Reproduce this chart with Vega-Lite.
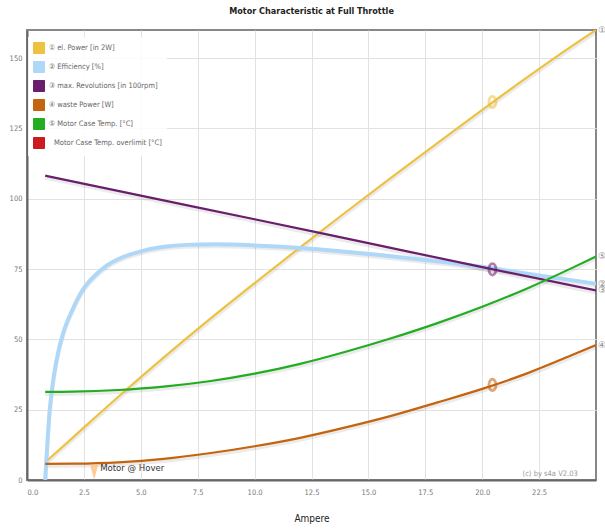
{
  "$schema": "https://vega.github.io/schema/vega-lite/v6.json",
  "width": 569,
  "height": 450,
  "autosize": {"type": "none"},
  "padding": {"left": 27, "top": 30, "right": 9, "bottom": 49},
  "background": "white",
  "title": {
    "text": "Motor Characteristic at Full Throttle",
    "fontSize": 9,
    "fontWeight": "bold",
    "font": "DejaVu Sans Condensed, sans-serif",
    "color": "#222",
    "anchor": "middle",
    "offset": 10
  },
  "datasets": {
    "curves": [
      {"s": "P", "I": 0.8, "v": 6.3}, {"s": "P", "I": 2, "v": 15}, {"s": "P", "I": 4, "v": 29.5}, {"s": "P", "I": 6, "v": 43.5}, {"s": "P", "I": 8, "v": 57}, {"s": "P", "I": 10, "v": 70}, {"s": "P", "I": 12, "v": 82.7}, {"s": "P", "I": 14, "v": 95.2}, {"s": "P", "I": 16, "v": 107.5}, {"s": "P", "I": 18, "v": 119.6}, {"s": "P", "I": 20, "v": 131.6}, {"s": "P", "I": 22, "v": 143.3}, {"s": "P", "I": 24, "v": 154.6}, {"s": "P", "I": 25, "v": 160},
      {"s": "E", "I": 0.8, "v": 0}, {"s": "E", "I": 0.9, "v": 13.5}, {"s": "E", "I": 1.0, "v": 25}, {"s": "E", "I": 1.2, "v": 38}, {"s": "E", "I": 1.4, "v": 46.5}, {"s": "E", "I": 1.6, "v": 52.5}, {"s": "E", "I": 2.0, "v": 60.6}, {"s": "E", "I": 2.5, "v": 68.2}, {"s": "E", "I": 3.0, "v": 72.8}, {"s": "E", "I": 3.5, "v": 76.2}, {"s": "E", "I": 4.0, "v": 78.5}, {"s": "E", "I": 5.0, "v": 81.3}, {"s": "E", "I": 6.0, "v": 82.9}, {"s": "E", "I": 7.0, "v": 83.6}, {"s": "E", "I": 8.3, "v": 83.8}, {"s": "E", "I": 10, "v": 83.4}, {"s": "E", "I": 11.2, "v": 82.9}, {"s": "E", "I": 12.5, "v": 82.2}, {"s": "E", "I": 14.2, "v": 81}, {"s": "E", "I": 15.5, "v": 80}, {"s": "E", "I": 17.1, "v": 78.6}, {"s": "E", "I": 18.5, "v": 77.3}, {"s": "E", "I": 20.0, "v": 75.8}, {"s": "E", "I": 20.5, "v": 75.2}, {"s": "E", "I": 22.5, "v": 72.7}, {"s": "E", "I": 25, "v": 69.8},
      {"s": "R", "I": 0.8, "v": 108.2}, {"s": "R", "I": 5, "v": 101.1}, {"s": "R", "I": 10, "v": 92.7}, {"s": "R", "I": 15, "v": 84.2}, {"s": "R", "I": 20, "v": 75.7}, {"s": "R", "I": 25, "v": 67.4},
      {"s": "W", "I": 0.8, "v": 5.7}, {"s": "W", "I": 2, "v": 5.8}, {"s": "W", "I": 4, "v": 6.3}, {"s": "W", "I": 6, "v": 7.5}, {"s": "W", "I": 8, "v": 9.5}, {"s": "W", "I": 10, "v": 12}, {"s": "W", "I": 12, "v": 15}, {"s": "W", "I": 14, "v": 18.7}, {"s": "W", "I": 16, "v": 22.8}, {"s": "W", "I": 18, "v": 27.5}, {"s": "W", "I": 20, "v": 32.4}, {"s": "W", "I": 22, "v": 38}, {"s": "W", "I": 24, "v": 44.6}, {"s": "W", "I": 25, "v": 48},
      {"s": "T", "I": 0.8, "v": 31.3}, {"s": "T", "I": 2, "v": 31.4}, {"s": "T", "I": 4, "v": 32}, {"s": "T", "I": 6, "v": 33.2}, {"s": "T", "I": 8, "v": 35.1}, {"s": "T", "I": 10, "v": 37.8}, {"s": "T", "I": 12, "v": 41.3}, {"s": "T", "I": 14, "v": 45.6}, {"s": "T", "I": 16, "v": 50.4}, {"s": "T", "I": 18, "v": 55.7}, {"s": "T", "I": 20, "v": 61.6}, {"s": "T", "I": 22, "v": 68.2}, {"s": "T", "I": 24, "v": 75.6}, {"s": "T", "I": 25, "v": 79.5}
    ],
    "rings": [
      {"s": "P", "I": 20.45, "v": 134.4},
      {"s": "R", "I": 20.45, "v": 74.9},
      {"s": "W", "I": 20.45, "v": 33.8}
    ],
    "ends": [
      {"t": "①", "I": 25, "v": 160},
      {"t": "②", "I": 25, "v": 69.8},
      {"t": "③", "I": 25, "v": 67.4},
      {"t": "④", "I": 25, "v": 48},
      {"t": "⑤", "I": 25, "v": 79.5}
    ],
    "hover": [{"I": 2.95, "v": 2.8, "t": "Motor @ Hover"}],
    "copy": [{"I": 24.2, "v": 2.3, "t": "(c) by s4a  V2.03"}]
  },
  "layer": [
    {
      "data": {"name": "curves"},
      "mark": {"type": "line", "interpolate": "monotone", "color": "#000", "opacity": 0.08, "strokeWidth": 4, "yOffset": 2, "clip": true},
      "encoding": {
        "x": {"field": "I", "type": "quantitative", "scale": {"domain": [0, 25], "nice": false, "zero": false},
          "axis": {"values": [0, 2.5, 5, 7.5, 10, 12.5, 15, 17.5, 20, 22.5], "format": ".1f", "title": "Ampere", "grid": true}},
        "y": {"field": "v", "type": "quantitative", "scale": {"domain": [0, 160], "nice": false},
          "axis": {"values": [0, 25, 50, 75, 100, 125, 150], "title": null, "grid": true}},
        "detail": {"field": "s"}
      }
    },
    {
      "data": {"name": "curves"},
      "mark": {"type": "line", "interpolate": "monotone", "clip": true},
      "encoding": {
        "x": {"field": "I", "type": "quantitative"},
        "y": {"field": "v", "type": "quantitative"},
        "color": {
          "field": "s", "type": "nominal",
          "scale": {"domain": ["P", "E", "R", "W", "T", "O"], "range": ["#edc240", "#afd8f8", "#6a1f6c", "#c4640e", "#22ad22", "#cc1a22"]},
          "legend": {
            "title": null,
            "orient": "none",
            "legendX": 1,
            "legendY": 7,
            "padding": 5,
            "fillColor": "rgba(255,255,255,0.85)",
            "symbolType": "square",
            "symbolSize": 121,
            "rowPadding": 3,
            "labelOffset": 4,
            "labelFontSize": 7.5,
            "labelColor": "#666",
            "labelFont": "DejaVu Sans Condensed, sans-serif",
            "labelLimit": 200,
            "labelExpr": "datum.label == 'P' ? '① el. Power [in 2W]' : datum.label == 'E' ? '② Efficiency [%]' : datum.label == 'R' ? '③ max. Revolutions [in 100rpm]' : datum.label == 'W' ? '④ waste Power [W]' : datum.label == 'T' ? '⑤ Motor Case Temp. [°C]' : '\u2800Motor Case Temp. overlimit [°C]'",
            "encode": {
              "symbols": {
                "update": {
                  "fill": {"scale": "color", "field": "value"},
                  "stroke": {"value": "#cccccc"},
                  "strokeWidth": {"value": 1},
                  "opacity": {"value": 1},
                  "shape": {"value": "square"}
                }
              }
            }
          }
        },
        "strokeWidth": {"condition": {"test": "datum.s === 'E'", "value": 4}, "value": 2.2}
      }
    },
    {
      "data": {"name": "rings"},
      "mark": {"type": "point", "shape": "M0,-1A0.62,1 0 1,1 0,1A0.62,1 0 1,1 0,-1Z", "filled": false, "strokeWidth": 2.8, "opacity": 0.55, "size": 130},
      "encoding": {
        "x": {"field": "I", "type": "quantitative"},
        "y": {"field": "v", "type": "quantitative"},
        "color": {"field": "s", "type": "nominal"}
      }
    },
    {
      "data": {"name": "ends"},
      "mark": {"type": "text", "dx": 6, "align": "center", "baseline": "middle", "fontSize": 9, "color": "#888", "font": "DejaVu Sans"},
      "encoding": {
        "x": {"field": "I", "type": "quantitative"},
        "y": {"field": "v", "type": "quantitative"},
        "text": {"field": "t"}
      }
    },
    {
      "data": {"name": "hover"},
      "mark": {"type": "point", "shape": "M-0.55,-1L0.55,-1L0,1Z", "filled": true, "color": "#ffc58f", "opacity": 0.9, "size": 225},
      "encoding": {
        "x": {"field": "I", "type": "quantitative"},
        "y": {"field": "v", "type": "quantitative"}
      }
    },
    {
      "data": {"name": "hover"},
      "mark": {"type": "text", "dx": 6, "dy": -4, "align": "left", "baseline": "middle", "fontSize": 9.5, "color": "#333", "font": "DejaVu Sans Condensed, sans-serif"},
      "encoding": {
        "x": {"field": "I", "type": "quantitative"},
        "y": {"field": "v", "type": "quantitative"},
        "text": {"field": "t"}
      }
    },
    {
      "data": {"name": "copy"},
      "mark": {"type": "text", "align": "right", "baseline": "middle", "fontSize": 7.5, "color": "#999", "font": "DejaVu Sans Condensed, sans-serif"},
      "encoding": {
        "x": {"field": "I", "type": "quantitative"},
        "y": {"field": "v", "type": "quantitative"},
        "text": {"field": "t"}
      }
    }
  ],
  "config": {
    "view": {"stroke": "#888", "strokeWidth": 2},
    "font": "DejaVu Sans Condensed, sans-serif",
    "axis": {
      "domainColor": "#666",
      "domainWidth": 2,
      "gridColor": "#e2e2e2",
      "gridWidth": 1,
      "ticks": false,
      "labelFontSize": 7.5,
      "labelColor": "#777",
      "labelFont": "DejaVu Sans Condensed, sans-serif"
    },
    "axisX": {"labelPadding": 8, "titlePadding": 18, "titleFontSize": 10, "titleFontWeight": "normal", "titleColor": "#222", "titleFont": "DejaVu Sans Condensed, sans-serif"},
    "axisY": {"labelPadding": 5}
  }
}
